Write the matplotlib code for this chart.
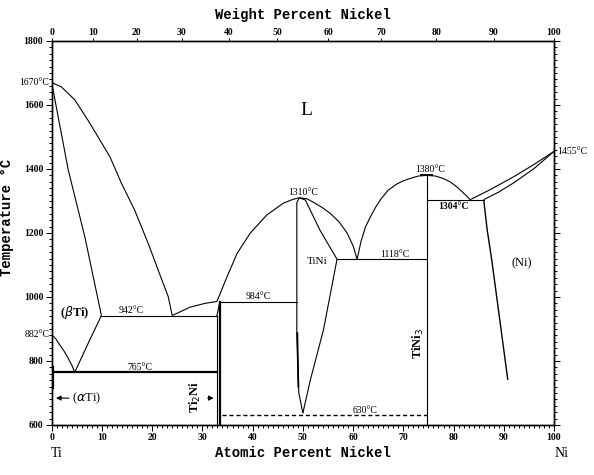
import numpy as np
import matplotlib.pyplot as plt
from matplotlib.ticker import MultipleLocator

# Ti-Ni phase diagram (atomic % Ni, deg C)
liq_ti = [(0, 1670), (1.9, 1657), (4.6, 1616), (7.2, 1553), (9.2, 1501),
          (11.6, 1438), (13.9, 1355), (16.5, 1272), (19.2, 1168), (21.2, 1084),
          (23.2, 1001), (24.0, 942)]
sol_beta = [(0, 1670), (3.3, 1397), (6.6, 1188), (9.9, 942)]
beta_alpha_l = [(0, 882), (0.8, 870), (1.6, 850), (2.5, 830), (3.3, 808),
                (4.0, 787), (4.6, 765)]
beta_alpha_r = [(4.6, 765), (7.2, 853), (9.9, 942)]
liq_ti2ni = [(24.0, 942), (27.5, 968), (30.5, 980), (32.9, 986)]
liq_tini_l = [(32.9, 986), (34.9, 1063), (36.9, 1136), (39.5, 1199),
              (42.8, 1256), (46.1, 1293), (48.0, 1305), (49.3, 1310)]
tini_left = [(49.3, 1310), (48.8, 1295), (48.8, 887), (49.2, 700), (50.0, 637)]
tini_right = [(49.3, 1310), (50.5, 1303), (53.4, 1209), (56.8, 1118),
              (54.1, 897), (51.5, 741), (50.0, 637)]
liq_tini_r = [(49.3, 1310), (50.8, 1307), (52.1, 1296), (53.8, 1280), (55.4, 1262),
              (57.2, 1235), (58.8, 1200), (60.0, 1160), (60.8, 1118)]
liq_tini3 = [(60.8, 1118), (61.6, 1175), (62.5, 1220), (63.5, 1252), (64.5, 1281),
             (65.5, 1305), (67.0, 1334), (68.7, 1353), (70.0, 1363), (71.5, 1371),
             (73.0, 1378), (74.7, 1380), (76.4, 1378), (78.0, 1370), (79.3, 1360),
             (80.5, 1346), (81.7, 1329), (82.5, 1317), (83.3, 1304)]
liq_ni = [(83.3, 1304), (87.0, 1333), (92.0, 1376), (96.0, 1414), (100, 1455)]
sol_ni = [(86.0, 1304), (89.0, 1328), (92.0, 1357), (96.0, 1401), (100, 1455)]
solvus_ni = [(86.0, 1304), (86.7, 1209), (87.6, 1116), (90.8, 741)]

# invariant lines: (T, x_start, x_end)
iso_thin = [(942, 9.9, 32.9), (984, 33.5, 48.8), (1118, 56.8, 74.7), (1304, 74.7, 86.0)]
iso_765 = (765, 0, 32.9)
iso_630 = (630, 33.9, 74.7)

wt_ticks = [0, 10, 20, 30, 40, 50, 60, 70, 80, 90, 100]
temp_ticks = [600, 800, 1000, 1200, 1400, 1600, 1800]


def wt_to_at(w):
    w = np.asarray(w, dtype=float)
    ni = w / 58.69
    ti = (100 - w) / 47.87
    return 100 * ni / (ni + ti)


fig = plt.figure(figsize=(5.94, 4.75), dpi=100)
ax = fig.add_axes([0.087, 0.1053, 0.8457, 0.8084])
ax.set_xlim(0, 100)
ax.set_ylim(600, 1800)

k = dict(color='black', lw=0.8)


def curve(pts, **kw):
    xs, ys = zip(*pts)
    style = dict(k)
    style.update(kw)
    ax.plot(xs, ys, solid_capstyle='butt', solid_joinstyle='round', **style)


for c in [liq_ti, sol_beta, beta_alpha_l, beta_alpha_r, liq_ti2ni, liq_tini_l,
          tini_left, tini_right, liq_tini_r, liq_tini3, liq_ni, sol_ni]:
    curve(c)
curve(solvus_ni, lw=1.0)

for t, x0, x1 in iso_thin:
    ax.plot([x0, x1], [t, t], **k)
ax.plot([iso_765[1], iso_765[2]], [iso_765[0]] * 2, color='black', lw=1.6)
ax.plot([iso_630[1], iso_630[2]], [iso_630[0]] * 2, color='black', lw=1.0,
        ls=(0, (3, 2)))

# compounds and phase boundaries
ax.plot([32.9, 32.9], [942, 600], **k)
ax.plot([32.9, 33.4], [942, 980], **k)
ax.plot([33.5, 33.5], [984, 600], color='black', lw=1.6)
ax.plot([74.7, 74.7], [1380, 600], **k)
ax.plot([73.6, 75.8], [1380, 1380], color='black', lw=1.4)
ax.plot([48.9, 49.1], [887, 720], color='black', lw=1.3)
ax.plot([0.25, 0.25], [782, 715], color='black', lw=1.6)

# arrows
ax.annotate('', xy=(0.3, 684), xytext=(4.0, 684),
            arrowprops=dict(arrowstyle='-|>', color='black', lw=0.8, mutation_scale=7))
ax.annotate('', xy=(32.8, 684), xytext=(30.5, 684),
            arrowprops=dict(arrowstyle='-|>', color='black', lw=0.8, mutation_scale=7))

serif = 'Liberation Serif'
lab = dict(family=serif, fontsize=7, color='black')
ax.text(50.8, 1584, 'L', family=serif, fontsize=14, ha='center', va='center')
ax.text(4.6, 950, r'($\beta$Ti)', family=serif, fontsize=9, fontweight='bold',
        ha='center', va='center')
ax.text(4.1, 684, r'($\alpha$Ti)', family=serif, fontsize=9, ha='left', va='center')
ax.text(15.9, 944, '942°C', ha='center', va='bottom', **lab)
ax.text(17.6, 767, '765°C', ha='center', va='bottom', **lab)
ax.text(41.2, 986, '984°C', ha='center', va='bottom', **lab)
ax.text(50.1, 1313, '1310°C', ha='center', va='bottom', **lab)
ax.text(52.8, 1110, 'TiNi', family=serif, fontsize=8, ha='center', va='center')
ax.text(68.4, 1120, '1118°C', ha='center', va='bottom', **lab)
ax.text(62.4, 632, '630°C', ha='center', va='bottom', **lab)
ax.text(75.4, 1383, '1380°C', ha='center', va='bottom', **lab)
ax.text(80.0, 1282, '1304°C', ha='center', va='center', fontweight='bold', **lab)
ax.text(93.6, 1105, '(Ni)', family=serif, fontsize=9, ha='center', va='center')
ax.text(73.0, 855, r'TiNi$_3$', family=serif, fontsize=9, fontweight='bold',
        rotation=90, ha='center', va='center')
ax.text(28.6, 688, r'Ti$_2$Ni', family=serif, fontsize=9, fontweight='bold',
        rotation=90, ha='center', va='center')
ax.text(-0.5, 1670, '1670°C', ha='right', va='center', clip_on=False, **lab)
ax.text(-0.5, 882, '882°C', ha='right', va='center', clip_on=False, **lab)
ax.text(100.6, 1455, '1455°C', ha='left', va='center', clip_on=False, **lab)
ax.text(1.0, 512, 'Ti', family=serif, fontsize=10, ha='center', va='center', clip_on=False)
ax.text(101.5, 512, 'Ni', family=serif, fontsize=10, ha='center', va='center', clip_on=False)

mono = 'Liberation Mono'
ax.set_xlabel('Atomic Percent Nickel', family=mono, fontsize=10, fontweight='bold',
              labelpad=3)
ax.set_ylabel('Temperature °C', family=mono, fontsize=10, fontweight='bold')
ax.yaxis.set_label_coords(-0.075, 0.54)

# ticks
ax.set_xticks(range(0, 101, 10))
ax.xaxis.set_minor_locator(MultipleLocator(1))
ax.set_yticks(temp_ticks)
ax.yaxis.set_minor_locator(MultipleLocator(20))
ax.tick_params(which='both', top=True, right=True, direction='out', width=0.7,
               labelsize=7, pad=2)
ax.tick_params(which='major', length=4)
ax.tick_params(which='minor', length=2)
for lbl in ax.get_xticklabels() + ax.get_yticklabels():
    lbl.set_family(serif)
    lbl.set_fontweight('bold')

top = ax.twiny()
top.set_xlim(0, 100)
top.set_xticks(wt_to_at(wt_ticks))
top.set_xticklabels([str(w) for w in wt_ticks], family=serif, fontsize=7,
                    fontweight='bold')
top.tick_params(length=2, width=0.7, pad=1)
top.set_xlabel('Weight Percent Nickel', family=mono, fontsize=10, fontweight='bold',
               labelpad=6)

for a in (ax, top):
    for s in a.spines.values():
        s.set_linewidth(1.0)

fig.savefig('out.png', dpi=100)
